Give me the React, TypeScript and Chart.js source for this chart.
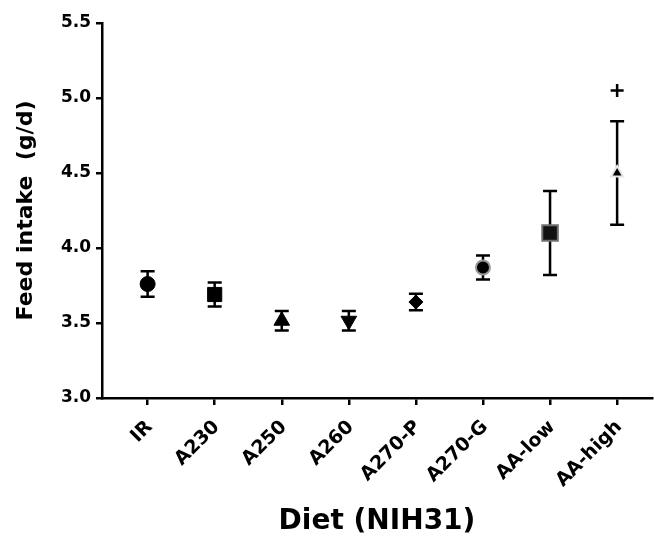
import React, { useEffect, useRef } from "react";
import { Chart, registerables } from "chart.js";

Chart.register(...registerables);

const categories = ["IR", "A230", "A250", "A260", "A270-P", "A270-G", "AA-low", "AA-high"];
const means = [3.76, 3.69, 3.515, 3.515, 3.64, 3.87, 4.1, 4.5];
const sems = [0.085, 0.08, 0.065, 0.065, 0.055, 0.08, 0.28, 0.345];
const markerStyles = ["circle", "rect", "triangle", "triangle", "rectRot", "circle", "rect", "triangle"];
const markerRotations = [0, 0, 0, 180, 0, 0, 0, 0];
const markerRadii = [7.5, 10, 9, 9, 7, 7, 11, 7];
const markerFill = ["#000", "#000", "#000", "#000", "#000", "#000", "#111", "#000"];
const markerBorder = ["#000", "#000", "#000", "#000", "#000", "#9a9a9a", "#707070", "#e8e8e8"];
const markerBorderWidth = [1, 1, 1, 1, 1, 2, 2, 2];
const sigIndex = [7];
const sigValues = [5.05];
const yTicks = [3.0, 3.5, 4.0, 4.5, 5.0, 5.5];

const FONT = "'DejaVu Sans', 'Liberation Sans', Arial, sans-serif";

const errorBarPlugin = {
  id: "errorBars",
  beforeDatasetsDraw(chart: any) {
    const { ctx, scales } = chart;
    const xs = scales.x;
    const ys = scales.y;
    ctx.save();
    ctx.strokeStyle = "#000";
    ctx.lineWidth = 2.5;
    ctx.lineCap = "butt";
    means.forEach((m, i) => {
      const x = xs.getPixelForValue(i);
      const yTop = ys.getPixelForValue(m + sems[i]);
      const yBot = ys.getPixelForValue(m - sems[i]);
      const half = 7;
      ctx.beginPath();
      ctx.moveTo(x, yTop);
      ctx.lineTo(x, yBot);
      ctx.moveTo(x - half, yTop);
      ctx.lineTo(x + half, yTop);
      ctx.moveTo(x - half, yBot);
      ctx.lineTo(x + half, yBot);
      ctx.stroke();
    });
    ctx.restore();
  },
};

export default function App() {
  const ref = useRef<HTMLCanvasElement | null>(null);

  useEffect(() => {
    if (!ref.current) return;
    const chart = new Chart(ref.current, {
      type: "scatter",
      data: {
        datasets: [
          {
            label: "Feed intake",
            data: means.map((v, i) => ({ x: i, y: v })),
            pointStyle: markerStyles as any,
            rotation: markerRotations,
            pointRadius: markerRadii,
            pointBackgroundColor: markerFill,
            pointBorderColor: markerBorder,
            pointBorderWidth: markerBorderWidth,
            showLine: false,
          },
          {
            label: "Significance",
            data: sigIndex.map((ix, k) => ({ x: ix, y: sigValues[k] })),
            pointStyle: "cross",
            pointRadius: 6.5,
            pointBorderColor: "#000",
            pointBorderWidth: 2.5,
            showLine: false,
          },
        ],
      },
      options: {
        responsive: false,
        animation: false,
        layout: { autoPadding: false, padding: { top: 23, right: 2, left: 0, bottom: 0 } },
        plugins: {
          legend: { display: false },
          tooltip: { enabled: false },
        },
        scales: {
          x: {
            type: "linear",
            min: -0.68,
            max: 7.52,
            afterBuildTicks: (scale: any) => {
              scale.ticks = categories.map((_, i) => ({ value: i }));
            },
            afterFit: (scale: any) => {
              scale.height = 148;
              scale.paddingLeft = 0;
              scale.paddingRight = 0;
            },
            ticks: {
              autoSkip: false,
              minRotation: 45,
              maxRotation: 45,
              padding: 11,
              labelOffset: 2,
              color: "#000",
              font: { family: FONT, size: 19, weight: "bold" },
              callback: (v: any) => categories[Number(v)] ?? "",
            },
            grid: {
              display: true,
              drawOnChartArea: false,
              drawTicks: true,
              tickLength: 7,
              color: "#000",
              lineWidth: 2.5,
            },
            border: { display: true, color: "#000", width: 2.5 },
            title: {
              display: true,
              text: "Diet (NIH31)",
              color: "#000",
              font: { family: FONT, size: 28, weight: "bold" },
              padding: { top: 0, bottom: 7 },
            },
          },
          y: {
            type: "linear",
            min: 3.0,
            max: 5.5,
            afterBuildTicks: (scale: any) => {
              scale.ticks = yTicks.map((v) => ({ value: v }));
            },
            afterFit: (scale: any) => {
              scale.width = 102;
            },
            ticks: {
              padding: 5,
              color: "#000",
              font: { family: FONT, size: 17, weight: "bold" },
              callback: (v: any) => Number(v).toFixed(1),
            },
            grid: {
              display: true,
              drawOnChartArea: false,
              drawTicks: true,
              tickLength: 6,
              color: "#000",
              lineWidth: 2.5,
            },
            border: { display: true, color: "#000", width: 2.5 },
            title: {
              display: true,
              text: "Feed intake  (g/d)",
              color: "#000",
              font: { family: FONT, size: 22, weight: "bold" },
              padding: { top: 13, bottom: 0 },
            },
          },
        },
      },
      plugins: [errorBarPlugin],
    });
    return () => chart.destroy();
  }, []);

  return (
    <canvas
      ref={ref}
      width={654}
      height={546}
      style={{ position: "absolute", left: 0, top: 0, display: "block" }}
    />
  );
}
